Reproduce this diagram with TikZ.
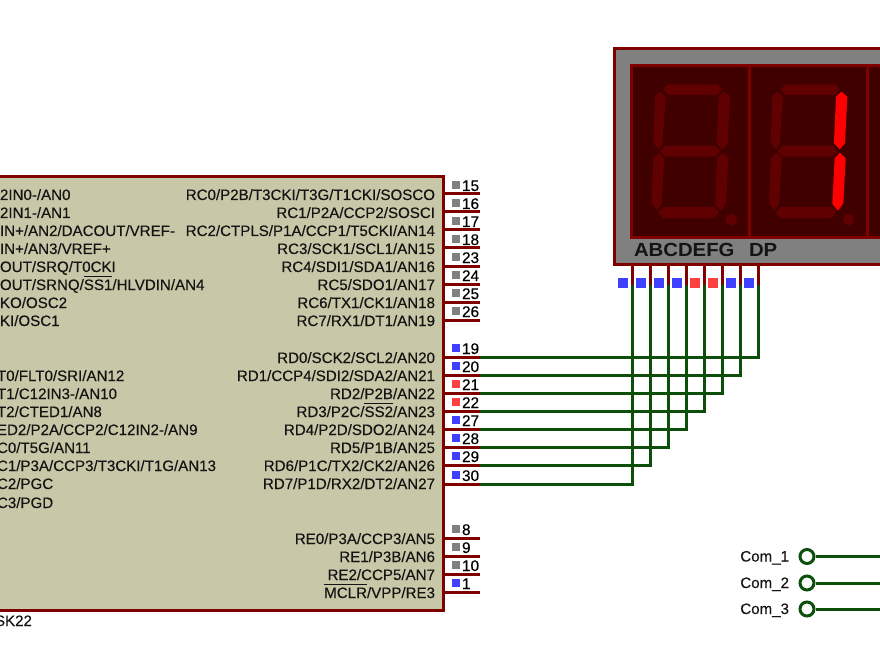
\documentclass[tikz,border=0pt]{standalone}
\usepackage{fontspec}
\setmainfont{Liberation Sans}
\newfontfamily\medfont[FakeBold=0.3]{Liberation Sans}
\definecolor{pinred}{HTML}{800000}
\definecolor{wiregreen}{HTML}{0B4F0B}
\definecolor{chipfill}{HTML}{C8C8A8}
\definecolor{dispgrey}{HTML}{808080}
\definecolor{dispdark}{HTML}{400000}
\definecolor{segoff}{HTML}{600000}
\definecolor{segon}{HTML}{FF0000}
\definecolor{stblue}{HTML}{4040FF}
\definecolor{stred}{HTML}{FF4040}
\definecolor{stgrey}{HTML}{808080}
\definecolor{inktext}{HTML}{141414}
\newcommand\ovl[1]{\setbox0=\hbox{#1}\rlap{\raisebox{13.5pt}{\rule{\wd0}{0.6pt}}}\box0}
\newcommand\seg[2]{\fill[#1] #2 -- cycle;}
\tikzset{
  chipbody/.style={draw=pinred,line width=3pt,fill=chipfill},
  pinline/.style={draw=pinred,line width=3pt},
  wireline/.style={draw=wiregreen,line width=3pt},
  lbl/.style={inner sep=0pt,outer sep=0pt,text=inktext,font=\fontsize{15.1}{17}\medfont},
  lblr/.style={lbl,anchor=base east},
  lbll/.style={lbl,anchor=base west},
  pinnum/.style={inner sep=0pt,outer sep=0pt,anchor=base west,text=black,font=\fontsize{15.4}{17}\medfont},
  state/.style={draw=none,minimum size=8.5pt,inner sep=0pt,outer sep=0pt},
  comnode/.style={circle,draw=wiregreen,line width=3pt,fill=white,minimum size=14pt,inner sep=0pt},
  disptext/.style={inner sep=0pt,outer sep=0pt,anchor=base west,text=inktext,font=\fontsize{19}{21}\bfseries\selectfont},
}
\begin{document}
\begin{tikzpicture}[x=1pt,y=-1pt]
\useasboundingbox (0,0) rectangle (880,660);
\clip (0,0) rectangle (880,660);
\fill[white] (0,0) rectangle (880,660);
% microcontroller
\path[chipbody] (-10,176.5) rectangle (443.5,610.5);
% right side pins
\foreach \n/\y/\c/\t in {
 c0/194/stgrey/15,c1/212/stgrey/16,c2/230/stgrey/17,c3/248/stgrey/18,
 c4/266/stgrey/23,c5/284/stgrey/24,c6/302/stgrey/25,c7/320/stgrey/26,
 e0/538/stgrey/8,e1/556/stgrey/9,e2/574/stgrey/10,e3/592/stblue/1,
 d0/357/stblue/19,d1/375/stblue/20,d2/393/stred/21,d3/411/stred/22,
 d4/429/stblue/27,d5/447/stblue/28,d6/465/stblue/29,d7/484/stblue/30}{
  \coordinate (\n in) at (443,\y);
  \coordinate (\n out) at (480,\y);
  \node[state,fill=\c,name=\n st] at (456,\y-9) {};
  \node[pinnum,name=\n num] at (462,\y-3) {\t};
}
% display
\path[draw=pinred,line width=3pt,fill=dispgrey] (614.5,48.5) rectangle (900,264.5);
\path[draw=pinred,line width=3pt,fill=dispdark] (631.5,65.5) rectangle (900,238);
\draw[pinred,line width=3pt] (749.5,65.5) -- (749.5,238) (867,65.5) -- (867,238);
% segments: drawn on a 3x grid
\foreach \dx/\rc in {0/segoff,117.33/segon}{
\begin{scope}[shift={(600+\dx,30)},x=0.3333pt,y=-0.3333pt]
  \seg{segoff}{(190,178)--(205,163)--(353,163)--(367,178)--(352,195)--(205,195)}
  \seg{segoff}{(180,185)--(197,200)--(187,340)--(177,358)--(160,340)--(165,200)}
  \seg{segoff}{(180,363)--(197,347)--(345,347)--(360,363)--(345,380)--(195,380)}
  \seg{segoff}{(177,368)--(193,385)--(185,520)--(172,540)--(155,522)--(160,385)}
  \seg{segoff}{(175,548)--(190,531)--(343,531)--(358,548)--(342,565)--(190,565)}
  \fill[segoff] (394,569) circle[radius=17];
  \seg{\rc}{(372,185)--(390,200)--(383,340)--(367,358)--(350,340)--(356,200)}
  \seg{\rc}{(368,368)--(385,385)--(378,520)--(362,542)--(345,522)--(352,385)}
\end{scope}}
\node[disptext,name=segnames] at (634,257) {\scalebox{1.07}[1]{ABCDEFG}};
\node[disptext,name=dpname] at (749,257) {\scalebox{1.07}[1]{DP}};
% display pins
\foreach \i/\x/\sx/\c in {0/758/749/stblue,1/740/731/stblue,2/722/713/stred,3/704/695/stred,4/686/677/stblue,5/668/659/stblue,6/650/641/stblue,7/632/623/stblue}{
  \coordinate (t\i in) at (\x,266);
  \coordinate (t\i out) at (\x,285);
  \path[wireline] (t\i out) |- (d\i out);
  \path[pinline] (t\i in) -- (t\i out);
  \path[pinline] (d\i in) -- (d\i out);
  \node[state,minimum size=9.5pt,fill=\c,name=t\i st] at (\sx,283) {};
}
\foreach \n in {c0,c1,c2,c3,c4,c5,c6,c7,e0,e1,e2,e3}{
  \path[pinline] (\n in) -- (\n out);
}
% right labels
\foreach \n/\y/\t in {
 rc0/200/{RC0/P2B/T3CKI/T3G/T1CKI/SOSCO},
 rc1/218/{RC1/P2A/CCP2/SOSCI},
 rc2/236/{RC2/CTPLS/P1A/CCP1/T5CKI/AN14},
 rc3/254/{RC3/SCK1/SCL1/AN15},
 rc4/272/{RC4/SDI1/SDA1/AN16},
 rc5/290/{RC5/SDO1/AN17},
 rc6/308/{RC6/TX1/CK1/AN18},
 rc7/326/{RC7/RX1/DT1/AN19},
 rd0/363/{RD0/SCK2/SCL2/AN20},
 rd1/381/{RD1/CCP4/SDI2/SDA2/AN21},
 rd2/399/{RD2/P2B/AN22},
 rd3/417/{RD3/P2C/\ovl{SS2}/AN23},
 rd4/435/{RD4/P2D/SDO2/AN24},
 rd5/453/{RD5/P1B/AN25},
 rd6/471/{RD6/P1C/TX2/CK2/AN26},
 rd7/489/{RD7/P1D/RX2/DT2/AN27},
 re0/544/{RE0/P3A/CCP3/AN5},
 re1/562/{RE1/P3B/AN6},
 re2/580/{RE2/CCP5/AN7},
 re3/598/{\ovl{MCLR}/VPP/RE3}}{
  \node[lblr,name=\n] at (435,\y) {\t};
}
% left labels
\foreach \n/\x/\y/\t in {
 la0/0/200/{2IN0-/AN0},
 la1/0/218/{2IN1-/AN1},
 la2/0/236/{IN+/AN2/DACOUT/VREF-},
 la3/0/254/{IN+/AN3/VREF+},
 la4/0/272/{OUT/SRQ/T0CKI},
 la5/0/290/{OUT/SRNQ/\ovl{SS1}/HLVDIN/AN4},
 la6/0/308/{KO/OSC2},
 la7/0/326/{KI/OSC1},
 lb0/-3/381/{T0/FLT0/SRI/AN12},
 lb1/-3/399/{T1/C12IN3-/AN10},
 lb2/-3/417/{T2/CTED1/AN8},
 lb3/-3/435/{ED2/P2A/CCP2/C12IN2-/AN9},
 lb4/-3/453/{C0/T5G/AN11},
 lb5/-3/471/{C1/P3A/CCP3/T3CKI/T1G/AN13},
 lb6/-3/489/{C2/PGC},
 lb7/-3/508/{C3/PGD},
 chipname/-5/626/{SK22}}{
  \node[lbll,name=\n] at (\x,\y) {\t};
}
% terminals
\foreach \i/\y in {1/556.5,2/583,3/609}{
  \coordinate (com\i end) at (885,\y);
  \node[comnode,name=com\i] at (807,\y) {};
  \path[wireline] (com\i) -- (com\i end);
  \node[lbl,anchor=base east,name=com\i l] at (789,\y+5) {Com\_\i};
}
\end{tikzpicture}
\end{document}
